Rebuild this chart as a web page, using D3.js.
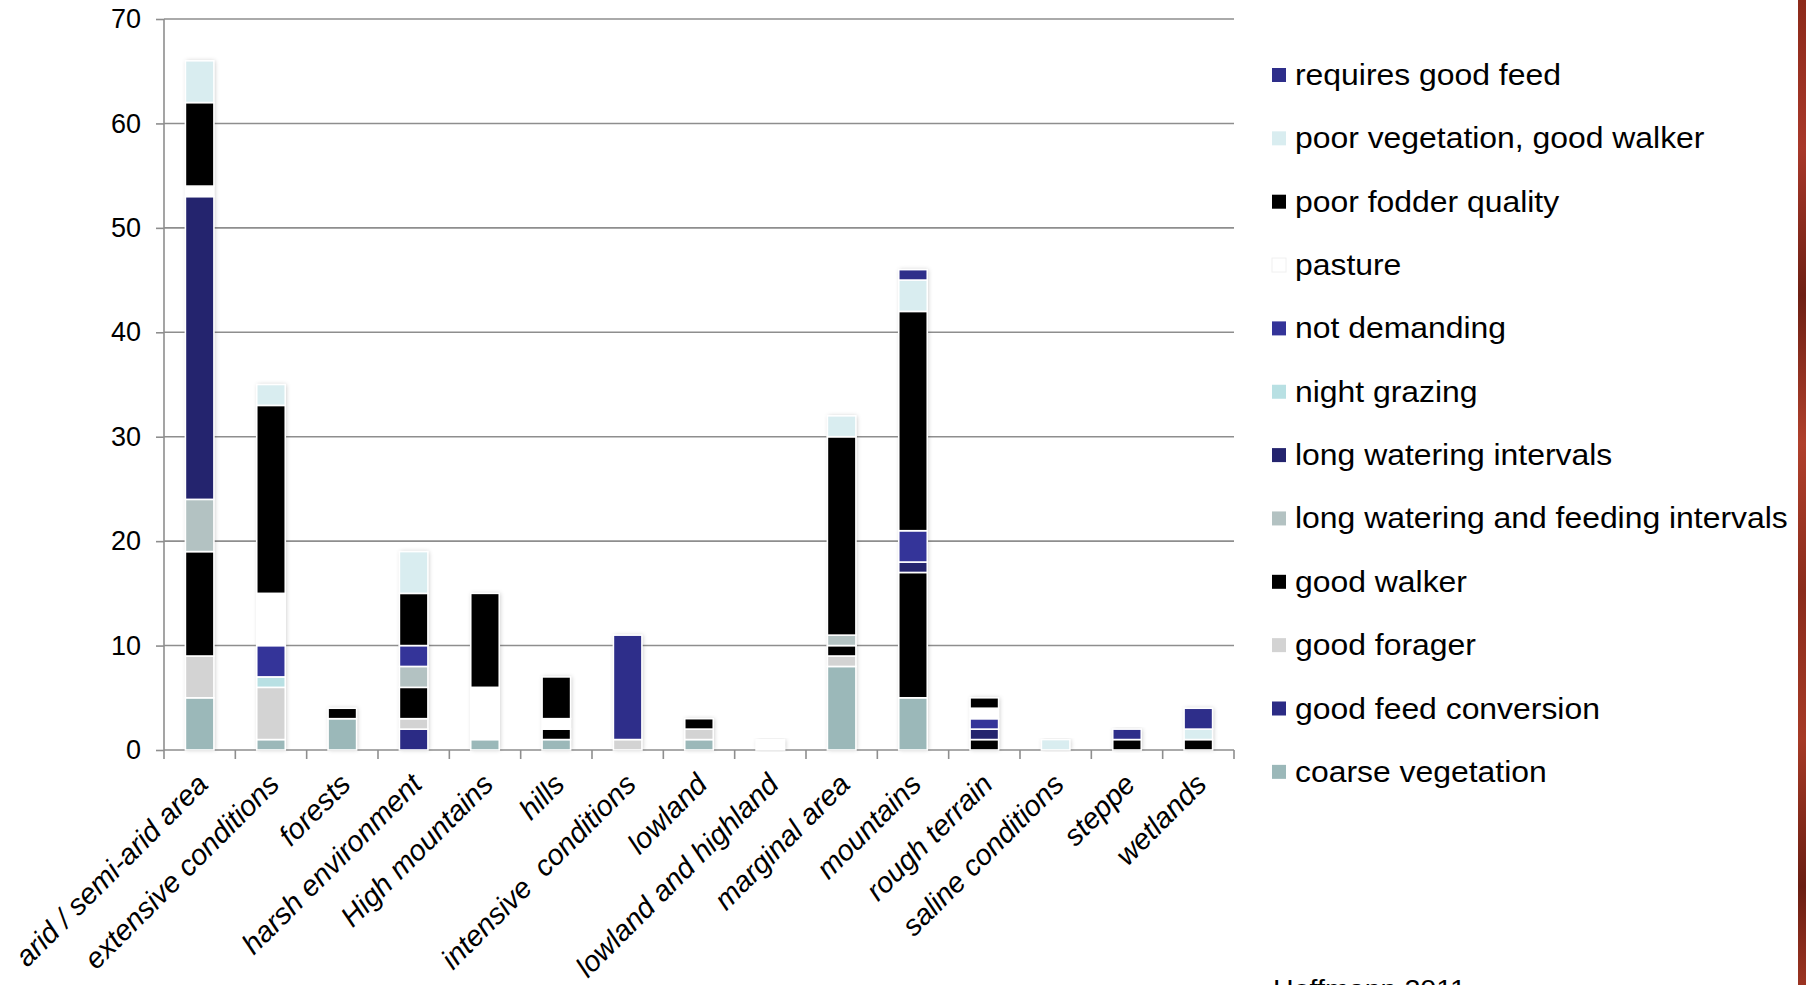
<!DOCTYPE html>
<html>
<head>
<meta charset="utf-8">
<script src="https://cdn.jsdelivr.net/npm/d3@7"></script>
<style>
  html, body { margin: 0; padding: 0; background: #ffffff; }
  svg { display: block; }
  text { font-family: "Liberation Sans", Arial, Helvetica, sans-serif; fill: #000; }
</style>
</head>
<body>
<svg id="chart" width="1806" height="985"></svg>
<script>
// Breed adaptation traits per environment (counts of mentions)
const categories = [
  "arid / semi-arid area", "extensive conditions", "forests", "harsh environment",
  "High mountains", "hills", "intensive  conditions", "lowland", "lowland and highland",
  "marginal area", "mountains", "rough terrain", "saline conditions", "steppe", "wetlands"
];

// Series listed bottom of the stack first
const seriesNames = [
  "coarse vegetation", "good feed conversion", "good forager", "good walker",
  "long watering and feeding intervals", "long watering intervals", "night grazing",
  "not demanding", "pasture", "poor fodder quality", "poor vegetation, good walker",
  "requires good feed"
];

const coarseVegetation      = [5, 1, 3, 0, 1, 1, 0, 1, 0, 8, 5, 0, 0, 0, 0];
const goodFeedConversion    = [0, 0, 0, 2, 0, 0, 0, 0, 0, 0, 0, 0, 0, 0, 0];
const goodForager           = [4, 5, 0, 1, 0, 0, 1, 1, 0, 1, 0, 0, 0, 0, 0];
const goodWalker            = [10, 0, 1, 3, 0, 1, 0, 1, 0, 1, 12, 1, 0, 1, 1];
const longWateringFeeding   = [5, 0, 0, 2, 0, 0, 0, 0, 0, 1, 0, 0, 0, 0, 0];
const longWatering          = [29, 0, 0, 0, 0, 0, 0, 0, 0, 0, 1, 1, 0, 0, 0];
const nightGrazing          = [0, 1, 0, 0, 0, 0, 0, 0, 0, 0, 0, 0, 0, 0, 0];
const notDemanding          = [0, 3, 0, 2, 0, 0, 0, 0, 0, 0, 3, 1, 0, 0, 0];
const pasture               = [1, 5, 0, 0, 5, 1, 0, 0, 1, 0, 0, 1, 0, 0, 0];
const poorFodderQuality     = [8, 18, 0, 5, 9, 4, 0, 0, 0, 19, 21, 1, 0, 0, 0];
const poorVegetationWalker  = [4, 2, 0, 4, 0, 0, 0, 0, 0, 2, 3, 0, 1, 0, 1];
const requiresGoodFeed      = [0, 0, 0, 0, 0, 0, 10, 0, 0, 0, 1, 0, 0, 1, 2];

const seriesValues = [
  coarseVegetation, goodFeedConversion, goodForager, goodWalker, longWateringFeeding,
  longWatering, nightGrazing, notDemanding, pasture, poorFodderQuality,
  poorVegetationWalker, requiresGoodFeed
];

const seriesColors = [
  "#9bb8b9", "#2b2b85", "#d3d3d3", "#000000", "#b3c2c2", "#24246e",
  "#b8e0e3", "#343499", "#ffffff", "#000000", "#d9edf0", "#2e2e8a"
];

const yTicks = [0, 10, 20, 30, 40, 50, 60, 70];
const sourceNote = "Hoffmann 2011";

// Table for the stack layout
const table = categories.map((c, i) => {
  const row = { category: c };
  seriesNames.forEach((s, k) => { row[s] = seriesValues[k][i]; });
  return row;
});

const svg = d3.select("#chart");
const plot = { left: 164, right: 1234, top: 19, bottom: 750 };

const x = d3.scaleBand().domain(categories).range([plot.left, plot.right]).paddingInner(0).paddingOuter(0);
const y = d3.scaleLinear().domain([0, 70]).range([plot.bottom, plot.top]);
const color = d3.scaleOrdinal().domain(seriesNames).range(seriesColors);

// Soft shadow behind the bars
const defs = svg.append("defs");
const shadow = defs.append("filter").attr("id", "barShadow")
  .attr("x", "-40%").attr("y", "-10%").attr("width", "180%").attr("height", "120%");
shadow.append("feDropShadow").attr("dx", 1).attr("dy", 0).attr("stdDeviation", 2.2)
  .attr("flood-color", "#000").attr("flood-opacity", 0.22);

// Gridlines
svg.append("g").selectAll("line").data(yTicks.filter(t => t > 0)).join("line")
  .attr("x1", plot.left).attr("x2", plot.right)
  .attr("y1", d => y(d)).attr("y2", d => y(d))
  .attr("stroke", "#8e8e8e").attr("stroke-width", 1.6);

// Y axis
const yAxis = svg.append("g").attr("transform", `translate(${plot.left},0)`)
  .call(d3.axisLeft(y).tickValues(yTicks).tickSize(8).tickPadding(15));
yAxis.select(".domain").attr("stroke", "#8e8e8e").attr("stroke-width", 1.6)
  .attr("d", `M0,${plot.top}V${plot.bottom + 9}`);
yAxis.selectAll(".tick line").attr("stroke", "#8e8e8e").attr("stroke-width", 1.6);
yAxis.selectAll(".tick text").attr("font-size", 27).attr("fill", "#000")
  .style("font-family", "'Liberation Sans', Arial, sans-serif");

// X axis: line plus ticks at band boundaries
const xAxisG = svg.append("g");
xAxisG.append("line").attr("x1", plot.left).attr("x2", plot.right)
  .attr("y1", plot.bottom).attr("y2", plot.bottom)
  .attr("stroke", "#8e8e8e").attr("stroke-width", 1.6);
const bounds = categories.map(c => x(c) + x.bandwidth());
xAxisG.selectAll("line.tk").data(bounds).join("line").attr("class", "tk")
  .attr("x1", d => d).attr("x2", d => d)
  .attr("y1", plot.bottom).attr("y2", plot.bottom + 9)
  .attr("stroke", "#8e8e8e").attr("stroke-width", 1.6);

// Category labels, rotated
xAxisG.selectAll("text").data(categories).join("text")
  .attr("transform", d => `translate(${x(d) + x.bandwidth() / 2 + 10},${plot.bottom + 36}) rotate(-45)`)
  .attr("text-anchor", "end")
  .attr("font-size", 29)
  .attr("font-style", "italic")
  .style("white-space", "pre")
  .text(d => d);

// Stacked bars
const stack = d3.stack().keys(seriesNames);
const layers = stack(table);
const barW = x.bandwidth() * 0.4;

const barsG = svg.append("g");
// one shadowed backing rect per bar (full stack height)
barsG.selectAll("rect.sh").data(table).join("rect").attr("class", "sh")
  .attr("x", d => x(d.category) + (x.bandwidth() - barW) / 2)
  .attr("width", barW)
  .attr("y", d => y(d3.sum(seriesNames, s => d[s])))
  .attr("height", d => y(0) - y(d3.sum(seriesNames, s => d[s])))
  .attr("fill", "#ffffff")
  .attr("filter", "url(#barShadow)");

barsG.selectAll("g.layer").data(layers).join("g").attr("class", "layer")
  .attr("fill", d => color(d.key))
  .selectAll("rect").data(d => d.filter(p => p[1] - p[0] > 0)).join("rect")
  .attr("x", d => x(d.data.category) + (x.bandwidth() - barW) / 2)
  .attr("width", barW)
  .attr("y", d => y(d[1]))
  .attr("height", d => y(d[0]) - y(d[1]))
  .attr("stroke", "#ffffff")
  .attr("stroke-width", 1.6);

// Legend (top entry is the top of the stack)
const legendNames = seriesNames.slice().reverse();
const legend = svg.append("g");
const rowH = 63.35;
const items = legend.selectAll("g").data(legendNames).join("g")
  .attr("transform", (d, i) => `translate(1272,${75 + i * rowH})`);
items.append("rect").attr("x", 0).attr("y", -7).attr("width", 14).attr("height", 14)
  .attr("fill", d => color(d))
  .attr("stroke", d => d === "pasture" ? "#f0f0f0" : "none").attr("stroke-width", 1);
items.append("text")
  .attr("transform", "translate(23,10) scale(1.1,1)")
  .attr("font-size", 29)
  .text(d => d);

// Source note at the foot of the legend
svg.append("text")
  .attr("transform", "translate(1273,998) scale(1.1,1)")
  .attr("font-size", 26)
  .text(sourceNote);

// Frame edge on the right
const edge = defs.append("linearGradient").attr("id", "edgeGrad")
  .attr("x1", 0).attr("y1", 0).attr("x2", 0).attr("y2", 1);
[[0, "#8c2a1a"], [0.15, "#a8382a"], [0.3, "#6e2014"], [0.45, "#b0402c"],
 [0.6, "#8a2c1c"], [0.75, "#a63a26"], [0.9, "#6a1e12"], [1, "#9c3422"]]
  .forEach(([o, c]) => edge.append("stop").attr("offset", o).attr("stop-color", c));
svg.append("rect").attr("x", 1798).attr("y", 0).attr("width", 8).attr("height", 985)
  .attr("fill", "url(#edgeGrad)");
</script>
</body>
</html>
